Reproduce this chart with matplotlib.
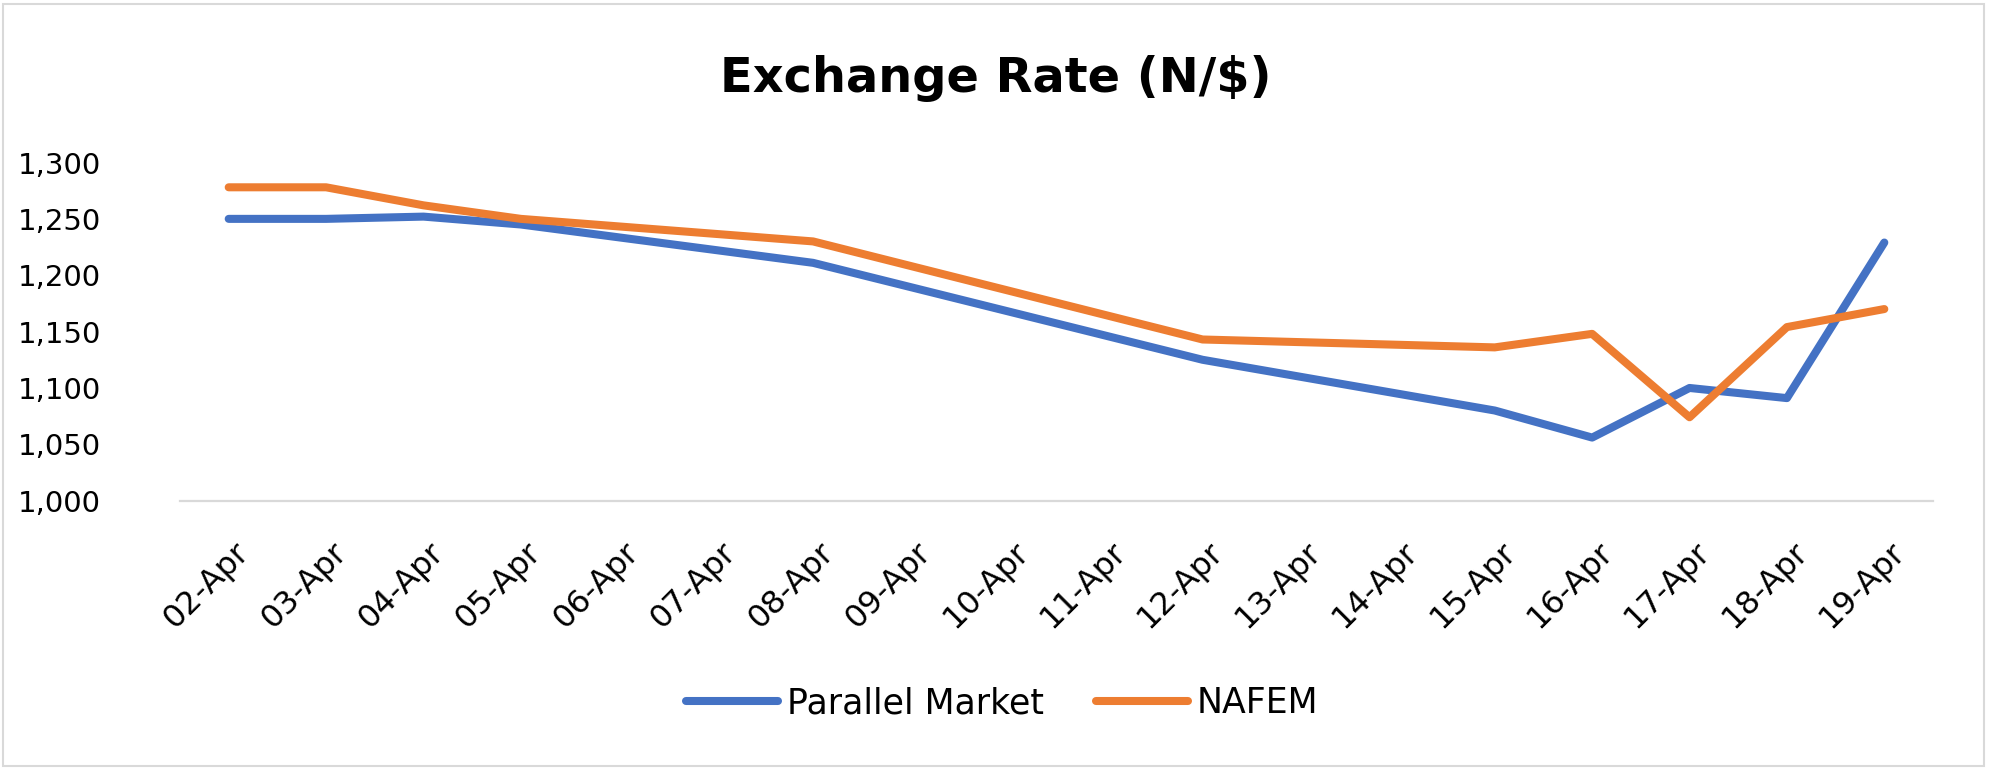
import matplotlib
matplotlib.use("Agg")
import matplotlib.pyplot as plt
import matplotlib.transforms as mtransforms
from matplotlib.patches import Rectangle
from matplotlib.ticker import FuncFormatter

# categories on the x axis (Excel category axis, gaps are connected)
dates = ["02-Apr", "03-Apr", "04-Apr", "05-Apr", "06-Apr", "07-Apr", "08-Apr",
         "09-Apr", "10-Apr", "11-Apr", "12-Apr", "13-Apr", "14-Apr", "15-Apr",
         "16-Apr", "17-Apr", "18-Apr", "19-Apr"]

# N per $, None = no quote that day
parallel = [1250, 1250, 1252, 1245, None, None, 1211, None, None, None,
            1125, None, None, 1080, 1056, 1100, 1091, 1229]
nafem = [1278, 1278, 1262, 1250, None, None, 1230, None, None, None,
         1143, None, None, 1136, 1148, 1074, 1154, 1170]

series_names = ["Parallel Market", "NAFEM"]
series_colors = ["#4472C4", "#ED7D31"]

plt.rcParams["font.family"] = ["DejaVu Sans"]

W, H = 1993, 770
fig = plt.figure(figsize=(W / 100, H / 100), dpi=100)

# plot area in pixels: x 180..1933, y 162.5..500.7
ax = fig.add_axes([180 / W, 1 - 500.7 / H, (1933 - 180) / W, (500.7 - 162.5) / H])

for vals, name, color in zip([parallel, nafem], series_names, series_colors):
    xs = [i for i, v in enumerate(vals) if v is not None]
    ys = [v for v in vals if v is not None]
    ax.plot(xs, ys, color=color, lw=5.8, label=name,
            solid_capstyle="round", solid_joinstyle="round")

ax.set_xlim(-0.5, len(dates) - 0.5)
ax.set_ylim(1000, 1300)

for s in ["top", "right", "left"]:
    ax.spines[s].set_visible(False)
ax.spines["bottom"].set_color("#D9D9D9")
ax.spines["bottom"].set_linewidth(1.6)

ax.set_yticks(range(1000, 1301, 50))
ax.yaxis.set_major_formatter(FuncFormatter(lambda v, p: f"{v:,.0f}"))
ax.tick_params(axis="y", length=0, pad=57, labelsize=21)

ax.set_xticks(range(len(dates)))
ax.set_xticklabels(dates, rotation=45, ha="right", va="top",
                   rotation_mode="anchor", fontsize=23)
ax.tick_params(axis="x", length=0, pad=26)
shift = mtransforms.ScaledTranslation(5 / 100, 0, fig.dpi_scale_trans)
for lab in ax.get_xticklabels():
    lab.set_transform(lab.get_transform() + shift)

fig.text(996 / W, 1 - 79 / H, r"Exchange Rate (N/\$)", ha="center", va="center",
         fontsize=34.5, fontweight="bold")

fig.legend(loc="center", bbox_to_anchor=(1002 / W, 1 - 703 / H), ncol=2,
           frameon=False, fontsize=25, handlelength=2.65, handletextpad=0.25,
           columnspacing=1.5)

fig.patches.append(Rectangle((3 / W, 4 / H), (1984 - 3) / W, (766 - 4) / H,
                             transform=fig.transFigure, fill=False,
                             edgecolor="#D9D9D9", lw=1.5))

fig.savefig("out.png", dpi=100)
